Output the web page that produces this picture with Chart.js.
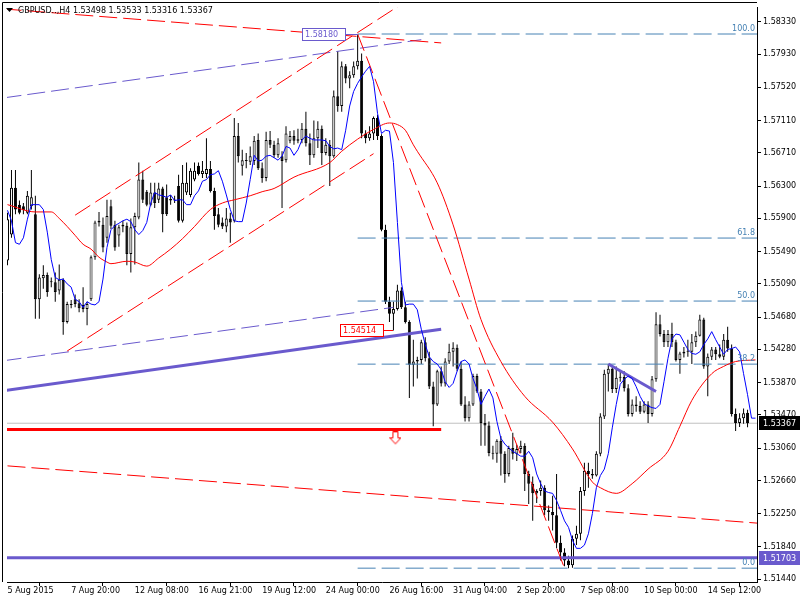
<!DOCTYPE html>
<html>
<head>
<meta charset="utf-8">
<script src="https://cdn.jsdelivr.net/npm/chart.js@4.4.1/dist/chart.umd.min.js"></script>
<style>
  html, body { margin: 0; padding: 0; background: #fff; }
  canvas { display: block; }
</style>
</head>
<body>
<canvas id="chart" width="800" height="600" style="width:800px;height:600px"></canvas>
<script>
/* GBPUSD H4 — candles, two moving averages, channels, fibo levels */

// ── Data ─────────────────────────────────────
const symbol = 'GBPUSD..,H4';

const xLabels = ['5 Aug 2015', '7 Aug 20:00', '12 Aug 08:00', '16 Aug 21:00', '19 Aug 12:00', '24 Aug 00:00',
                 '26 Aug 16:00', '31 Aug 04:00', '2 Sep 20:00', '7 Sep 08:00', '10 Sep 00:00', '14 Sep 12:00'];

const yTicks = [1.58330, 1.57930, 1.57520, 1.57110, 1.56710, 1.56300, 1.55900, 1.55490, 1.55090,
                1.54680, 1.54280, 1.53870, 1.53470, 1.53060, 1.52660, 1.52250, 1.51840, 1.51440];

const open = [
  1.5538, 1.5570, 1.5628, 1.5607, 1.5605, 1.5597, 1.5605, 1.5595, 1.5490, 1.5516,
  1.5520, 1.5512, 1.5511, 1.5501, 1.5514, 1.5462, 1.5483, 1.5490, 1.5485, 1.5483,
  1.5478, 1.5490, 1.5542, 1.5585, 1.5582, 1.5566, 1.5605, 1.5582, 1.5569, 1.5580,
  1.5581, 1.5546, 1.5579, 1.5591, 1.5638, 1.5623, 1.5607, 1.5622, 1.5613, 1.5627,
  1.5616, 1.5614, 1.5613, 1.5630, 1.5587, 1.5622, 1.5619, 1.5638, 1.5655, 1.5645,
  1.5645, 1.5651, 1.5624, 1.5595, 1.5585, 1.5580, 1.5590, 1.5587, 1.5692, 1.5655,
  1.5662, 1.5660, 1.5661, 1.5687, 1.5652, 1.5640, 1.5687, 1.5681, 1.5668, 1.5667,
  1.5662, 1.5686, 1.5692, 1.5686, 1.5687, 1.5701, 1.5683, 1.5668, 1.5689, 1.5701,
  1.5671, 1.5681, 1.5667, 1.5741, 1.5729, 1.5778, 1.5763, 1.5767, 1.5778, 1.5785,
  1.5695, 1.5689, 1.5695, 1.5714, 1.5692, 1.5576, 1.5487, 1.5472, 1.5478, 1.5501,
  1.5480, 1.5462, 1.5409, 1.5413, 1.5415, 1.5437, 1.5417, 1.5382, 1.5360, 1.5401,
  1.5386, 1.5413, 1.5425, 1.5430, 1.5404, 1.5360, 1.5343, 1.5360, 1.5395, 1.5376,
  1.5337, 1.5334, 1.5300, 1.5299, 1.5315, 1.5299, 1.5274, 1.5306, 1.5299, 1.5305,
  1.5309, 1.5274, 1.5262, 1.5250, 1.5253, 1.5257, 1.5229, 1.5227, 1.5223, 1.5189,
  1.5177, 1.5167, 1.5161, 1.5194, 1.5200, 1.5253, 1.5278, 1.5274, 1.5272, 1.5299,
  1.5345, 1.5398, 1.5404, 1.5379, 1.5393, 1.5394, 1.5380, 1.5348, 1.5360, 1.5358,
  1.5351, 1.5360, 1.5348, 1.5391, 1.5459, 1.5447, 1.5437, 1.5447, 1.5437, 1.5415,
  1.5423, 1.5425, 1.5425, 1.5437, 1.5445, 1.5465, 1.5407, 1.5419, 1.5428, 1.5422,
  1.5419, 1.5440, 1.5429, 1.5348, 1.5337, 1.5343, 1.53498
];
const high = [
  1.5597, 1.5650, 1.5650, 1.5612, 1.5609, 1.5624, 1.5650, 1.5618, 1.5521, 1.5532,
  1.5523, 1.5517, 1.5523, 1.5533, 1.5516, 1.5487, 1.5489, 1.5496, 1.5490, 1.5505,
  1.5487, 1.5544, 1.5587, 1.5598, 1.5591, 1.5613, 1.5613, 1.5587, 1.5582, 1.5587,
  1.5585, 1.5590, 1.5597, 1.5659, 1.5649, 1.5625, 1.5634, 1.5634, 1.5634, 1.5629,
  1.5632, 1.5619, 1.5618, 1.5644, 1.5656, 1.5659, 1.5652, 1.5659, 1.5659, 1.5661,
  1.5689, 1.5661, 1.5628, 1.5603, 1.5591, 1.5603, 1.5597, 1.5714, 1.5708, 1.5675,
  1.5671, 1.5679, 1.5692, 1.5695, 1.5659, 1.5697, 1.5698, 1.5686, 1.5689, 1.5673,
  1.5704, 1.5698, 1.5699, 1.5701, 1.5708, 1.5722, 1.5695, 1.5711, 1.5710, 1.5705,
  1.5689, 1.5687, 1.5748, 1.5797, 1.5784, 1.5781, 1.5772, 1.5784, 1.5818, 1.5794,
  1.5699, 1.5704, 1.5716, 1.5718, 1.5694, 1.5582, 1.5493, 1.5487, 1.5508, 1.5505,
  1.5487, 1.5464, 1.5440, 1.5419, 1.5440, 1.5443, 1.5425, 1.5388, 1.5403, 1.5407,
  1.5417, 1.5435, 1.5437, 1.5434, 1.5413, 1.5370, 1.5364, 1.5398, 1.5398, 1.5379,
  1.5348, 1.5339, 1.5309, 1.5317, 1.5321, 1.5302, 1.5309, 1.5325, 1.5310, 1.5315,
  1.5312, 1.5278, 1.5271, 1.5255, 1.5266, 1.5260, 1.5235, 1.5247, 1.5274, 1.5198,
  1.5182, 1.5173, 1.5198, 1.5210, 1.5258, 1.5288, 1.5288, 1.5280, 1.5302, 1.5349,
  1.5403, 1.5410, 1.5407, 1.5407, 1.5401, 1.5401, 1.5385, 1.5366, 1.5370, 1.5364,
  1.5364, 1.5364, 1.5395, 1.5474, 1.5471, 1.5452, 1.5452, 1.5461, 1.5440, 1.5425,
  1.5431, 1.5440, 1.5447, 1.5450, 1.5471, 1.5467, 1.5423, 1.5431, 1.5431, 1.5434,
  1.5447, 1.5456, 1.5434, 1.5355, 1.5349, 1.5355, 1.53533
];
const low = [
  1.5532, 1.5566, 1.5595, 1.5595, 1.5595, 1.5595, 1.5601, 1.5466, 1.5466, 1.5503,
  1.5493, 1.5505, 1.5487, 1.5496, 1.5446, 1.5460, 1.5479, 1.5480, 1.5474, 1.5474,
  1.5458, 1.5488, 1.5539, 1.5580, 1.5548, 1.5560, 1.5577, 1.5550, 1.5555, 1.5573,
  1.5532, 1.5523, 1.5533, 1.5589, 1.5609, 1.5605, 1.5605, 1.5603, 1.5609, 1.5573,
  1.5593, 1.5607, 1.5609, 1.5585, 1.5585, 1.5619, 1.5616, 1.5636, 1.5643, 1.5640,
  1.5640, 1.5622, 1.5576, 1.5579, 1.5577, 1.5573, 1.5560, 1.5585, 1.5659, 1.5643,
  1.5652, 1.5656, 1.5656, 1.5650, 1.5634, 1.5636, 1.5677, 1.5665, 1.5665, 1.5603,
  1.5659, 1.5683, 1.5681, 1.5683, 1.5683, 1.5679, 1.5656, 1.5665, 1.5677, 1.5656,
  1.5668, 1.5630, 1.5665, 1.5722, 1.5722, 1.5757, 1.5751, 1.5764, 1.5774, 1.5689,
  1.5683, 1.5686, 1.5687, 1.5687, 1.5574, 1.5484, 1.5462, 1.54514, 1.5476, 1.5478,
  1.5460, 1.5368, 1.5382, 1.5392, 1.5410, 1.5413, 1.5379, 1.5333, 1.5358, 1.5382,
  1.5382, 1.5410, 1.5407, 1.5401, 1.5358, 1.5339, 1.5339, 1.5358, 1.5374, 1.5309,
  1.5309, 1.5296, 1.5292, 1.5288, 1.5272, 1.5263, 1.5271, 1.5292, 1.5290, 1.5300,
  1.5253, 1.5237, 1.5216, 1.5238, 1.5247, 1.5223, 1.5216, 1.5204, 1.5182, 1.5167,
  1.5160, 1.51575, 1.5158, 1.5186, 1.5192, 1.5247, 1.5257, 1.5268, 1.5271, 1.5296,
  1.5342, 1.5376, 1.5374, 1.5374, 1.5388, 1.5376, 1.5345, 1.5345, 1.5351, 1.5348,
  1.5349, 1.5337, 1.5345, 1.5388, 1.5444, 1.5431, 1.5431, 1.5431, 1.5413, 1.5398,
  1.5418, 1.5419, 1.5410, 1.5431, 1.5444, 1.5404, 1.5370, 1.5415, 1.5415, 1.5417,
  1.5415, 1.5425, 1.5345, 1.5327, 1.5332, 1.5336, 1.53316
];
const close = [
  1.5589, 1.5628, 1.5601, 1.5597, 1.5600, 1.5618, 1.5616, 1.5490, 1.5517, 1.5520,
  1.5499, 1.5511, 1.5499, 1.5514, 1.5462, 1.5484, 1.5484, 1.5484, 1.5479, 1.5478,
  1.5484, 1.5542, 1.5585, 1.5587, 1.5554, 1.5593, 1.5581, 1.5554, 1.5579, 1.5582,
  1.5546, 1.5579, 1.5593, 1.5638, 1.5613, 1.5607, 1.5622, 1.5609, 1.5627, 1.5595,
  1.5595, 1.5612, 1.5612, 1.5587, 1.5634, 1.5634, 1.5649, 1.5649, 1.5645, 1.5649,
  1.5651, 1.5624, 1.5593, 1.5582, 1.5580, 1.5590, 1.5585, 1.5692, 1.5667, 1.5662,
  1.5661, 1.5667, 1.5686, 1.5652, 1.5640, 1.5687, 1.5681, 1.5668, 1.5683, 1.5661,
  1.5695, 1.5692, 1.5686, 1.5688, 1.5701, 1.5683, 1.5668, 1.5689, 1.5701, 1.5671,
  1.5681, 1.5667, 1.5741, 1.5729, 1.5778, 1.5763, 1.5767, 1.5778, 1.5785, 1.5695,
  1.5689, 1.5695, 1.5714, 1.5692, 1.5576, 1.5487, 1.5472, 1.5478, 1.5501, 1.5480,
  1.5462, 1.5409, 1.5413, 1.5415, 1.5437, 1.5417, 1.5382, 1.5360, 1.5401, 1.5386,
  1.5413, 1.5425, 1.5430, 1.5404, 1.5360, 1.5343, 1.5360, 1.5395, 1.5376, 1.5337,
  1.5334, 1.5300, 1.5299, 1.5315, 1.5299, 1.5274, 1.5306, 1.5299, 1.5305, 1.5309,
  1.5274, 1.5262, 1.5250, 1.5253, 1.5257, 1.5229, 1.5227, 1.5223, 1.5189, 1.5177,
  1.5167, 1.5161, 1.5194, 1.5200, 1.5253, 1.5278, 1.5274, 1.5272, 1.5299, 1.5345,
  1.5398, 1.5404, 1.5379, 1.5393, 1.5394, 1.5380, 1.5348, 1.5360, 1.5358, 1.5351,
  1.5360, 1.5348, 1.5391, 1.5459, 1.5447, 1.5437, 1.5447, 1.5437, 1.5415, 1.5423,
  1.5425, 1.5425, 1.5437, 1.5445, 1.5465, 1.5407, 1.5419, 1.5428, 1.5422, 1.5419,
  1.5440, 1.5429, 1.5348, 1.5337, 1.5343, 1.5349, 1.53367
];

// fast MA (blue), one value per bar, shifted two bars forward
const blueMA = [
  1.5600, 1.5587, 1.5560, 1.5558, 1.5566, 1.5589, 1.5607, 1.5607, 1.5607, 1.5601,
  1.5573, 1.5539, 1.5517, 1.5514, 1.5515, 1.5509, 1.5505, 1.5490, 1.5487, 1.5480,
  1.5487, 1.5484, 1.5483, 1.5487, 1.5515, 1.5554, 1.5576, 1.5581, 1.5584, 1.5587,
  1.5589, 1.5586, 1.5576, 1.5570, 1.5575, 1.5585, 1.5609, 1.5622, 1.5619, 1.5618,
  1.5616, 1.5619, 1.5612, 1.5613, 1.5613, 1.5607, 1.5607, 1.5618, 1.5624, 1.5636,
  1.5638, 1.5644, 1.5645, 1.5649, 1.5636, 1.5619, 1.5601, 1.5587, 1.5586, 1.5586,
  1.5609, 1.5638, 1.5668, 1.5661, 1.5662, 1.5667, 1.5668, 1.5665, 1.5662, 1.5667,
  1.5679, 1.5677, 1.5668, 1.5675, 1.5687, 1.5692, 1.5689, 1.5687, 1.5687, 1.5687,
  1.5686, 1.5679, 1.5676, 1.5677, 1.5675, 1.5699, 1.5729, 1.5747, 1.5757, 1.5765,
  1.5772, 1.5778, 1.5759, 1.5720, 1.5695, 1.5699, 1.5698, 1.5659, 1.5585, 1.5511,
  1.5483, 1.5484, 1.5484, 1.5477, 1.5453, 1.5434, 1.5419, 1.5413, 1.5410, 1.5403,
  1.5388, 1.5381, 1.5386, 1.5401, 1.5413, 1.5415, 1.5410, 1.5392, 1.5379, 1.5360,
  1.5370, 1.5379, 1.5368, 1.5339, 1.5318, 1.5311, 1.5306, 1.5302, 1.5299, 1.5296,
  1.5296, 1.5302, 1.5294, 1.5274, 1.5262, 1.5253, 1.5251, 1.5250, 1.5241, 1.5229,
  1.5216, 1.5208, 1.5192, 1.5182, 1.5182, 1.5186, 1.5200, 1.5225, 1.5257, 1.5272,
  1.5280, 1.5299, 1.5331, 1.5360, 1.5385, 1.5391, 1.5395, 1.5392, 1.5382, 1.5370,
  1.5361, 1.5358, 1.5356, 1.5355, 1.5360, 1.5388, 1.5417, 1.5441, 1.5447, 1.5446,
  1.5437, 1.5428, 1.5423, 1.5422, 1.5425, 1.5434, 1.5441, 1.5450, 1.5440, 1.5431,
  1.5422, 1.5428, 1.5429, 1.5431, 1.5425, 1.5398, 1.5372, 1.5343, 1.5343
];

// slow MA (red), read at selected bars
const redBars = [0, 7, 11, 13, 15, 17, 19, 21, 23, 25, 26, 30, 32, 35, 38, 41, 44, 47, 51, 54,
                 57, 61, 64, 67, 72, 81, 84, 88, 92, 96, 98, 100, 102, 103, 108, 112, 116, 119, 124, 130,
                 137, 142, 147, 149, 153, 157, 161, 166, 169, 172, 177, 180, 183, 188];
const redMA = [1.5607, 1.5598, 1.5598, 1.5590, 1.5580, 1.5569, 1.5558, 1.5552, 1.5542, 1.5536,
               1.5534, 1.5537, 1.5536, 1.5531, 1.5541, 1.5552, 1.5565, 1.5580, 1.5601, 1.5609,
               1.5613, 1.5618, 1.5623, 1.5627, 1.5641, 1.5659, 1.5673, 1.5688, 1.5700, 1.5708,
               1.5706, 1.5699, 1.5681, 1.5673, 1.5634, 1.5582, 1.5515, 1.5465, 1.5413, 1.5370,
               1.5338, 1.5305, 1.5264, 1.5257, 1.5250, 1.5262, 1.5280, 1.5302, 1.5333, 1.5365,
               1.5398, 1.5407, 1.5413, 1.5415];

// fibo retracement from the high (bar 88) to the low (bar 141)
const fibNames  = ['100.0', '61.8', '50.0', '38.2', '0.0'];
const fibPrices = [1.58180, 1.55657, 1.54878, 1.54098, 1.51575];
const fibStart  = 88;

// drawn objects: [bar, price] end points
const redChanUp   = [[17, 1.5594], [100, 1.5858]];
const redChanLow  = [[15, 1.5426], [92, 1.5670]];
const redDrop     = [[88, 1.5818], [140, 1.51575]];
const redDownTop  = [[-1, 1.5849], [109, 1.5807]];
const redDownLow  = [[0, 1.5284], [189, 1.5213]];
const purpUp      = [[-1, 1.5739], [104, 1.5811]];
const purpLow     = [[-1, 1.5414], [97, 1.5480]];
const purpThick   = [[-1, 1.5377], [109, 1.5453]];
const purpShort   = [[151, 1.5410], [163, 1.5376]];
const redLevel    = [[-1, 1.5329], [109, 1.5329]];
const supportPrice = 1.51703;

const tagBars   = [88, 97];
const tagPrices = [1.58180, 1.54514];
const arrowPoint = [97.5, 1.5318];

// ── Helpers ──────────────────────────────────
const FONT = '8px "DejaVu Sans", sans-serif';
const N = close.length;
const RED = '#ff0000', PURPLE = '#6a5acd', STEEL = '#4682b4';

function seg(pts, color, width, dash, order) {
  return {
    type: 'line', data: pts.map(([x, y]) => ({ x, y })),
    borderColor: color, borderWidth: width, borderDash: dash || [],
    pointRadius: 0, fill: false, tension: 0, clip: 0, order,
  };
}

function arrowImage() {
  const c = document.createElement('canvas');
  c.width = 12; c.height = 14;
  const g = c.getContext('2d');
  g.beginPath();
  g.moveTo(3.5, 0.5); g.lineTo(8.5, 0.5); g.lineTo(8.5, 6.5); g.lineTo(11.5, 6.5);
  g.lineTo(6, 12.5); g.lineTo(0.5, 6.5); g.lineTo(3.5, 6.5); g.closePath();
  g.fillStyle = '#fff'; g.fill();
  g.strokeStyle = RED; g.lineWidth = 1; g.stroke();
  return c;
}

// ── Datasets ─────────────────────────────────
const datasets = [
  // bid line under the candles
  seg([[-1, close[N - 1]], [190, close[N - 1]]], '#c0c0c0', 1, [], 9),
  {
    type: 'bar', data: close.map((c, i) => ({ x: i, y: [low[i], high[i]] })),
    backgroundColor: '#000', borderWidth: 0, barThickness: 1, grouped: false,
    inflateAmount: 0, clip: 0, order: 8,
  },
  {
    type: 'bar', data: close.map((c, i) => ({ x: i, y: [open[i], c] })),
    backgroundColor: close.map((c, i) => (c > open[i] ? '#ffffff' : '#000000')),
    borderColor: '#000', borderWidth: 1, borderSkipped: false, barThickness: 3,
    grouped: false, minBarLength: 1, inflateAmount: 0, clip: 0, order: 7,
  },
  ...fibPrices.map((p) => seg([[fibStart, p], [190, p]], STEEL, 1, [18, 6], 6)),
  seg(redChanUp, RED, 1, [18, 6], 5),
  seg(redChanLow, RED, 1, [18, 6], 5),
  seg(redDrop, RED, 1, [18, 6], 5),
  seg(redDownTop, RED, 1, [18, 6], 5),
  seg(redDownLow, RED, 1, [18, 6], 5),
  seg(purpUp, PURPLE, 1, [18, 6], 5),
  seg(purpLow, PURPLE, 1, [18, 6], 5),
  seg(purpThick, PURPLE, 3, [], 5),
  seg(purpShort, PURPLE, 3, [], 5),
  seg(redLevel, RED, 3, [], 5),
  seg([[-1, supportPrice], [190, supportPrice]], PURPLE, 3, [], 5),
  {
    type: 'line', data: redBars.map((b, i) => ({ x: b, y: redMA[i] })),
    borderColor: RED, borderWidth: 1, pointRadius: 0, fill: false,
    cubicInterpolationMode: 'monotone', clip: 0, order: 3,
  },
  {
    type: 'line', data: blueMA.map((v, i) => ({ x: i, y: v })),
    borderColor: '#0000ff', borderWidth: 1, pointRadius: 0, fill: false,
    tension: 0, clip: 0, order: 2,
  },
  {
    type: 'line', data: [{ x: arrowPoint[0], y: arrowPoint[1] }], showLine: false,
    pointStyle: arrowImage(), pointRadius: 6, clip: 0, order: 1,
  },
];

// ── Overlay: header, tags, fibo names, axis boxes, frame ──
const overlay = {
  id: 'overlay',
  afterDatasetsDraw(chart) {
    const { ctx, chartArea: a, scales: { x, y } } = chart;
    ctx.save();
    ctx.font = FONT;

    ctx.fillStyle = STEEL;
    ctx.textAlign = 'right';
    ctx.textBaseline = 'bottom';
    fibPrices.forEach((p, i) => ctx.fillText(fibNames[i], a.right - 2, y.getPixelForValue(p) - 1));

    const tagColors = [PURPLE, RED];
    const tagGaps = [13, 10];
    tagBars.forEach((b, i) => {
      const px = Math.round(x.getPixelForValue(b));
      const py = Math.round(y.getPixelForValue(tagPrices[i])) + 0.5;
      const right = px - tagGaps[i];
      ctx.strokeStyle = tagColors[i];
      ctx.lineWidth = 1;
      ctx.beginPath(); ctx.moveTo(right, py); ctx.lineTo(px, py); ctx.stroke();
      ctx.fillStyle = '#fff';
      ctx.fillRect(right - 43, py - 6.5, 43, 13);
      ctx.strokeRect(right - 43 + 0.5, py - 6, 43, 12);
      ctx.fillStyle = tagColors[i];
      ctx.textAlign = 'left';
      ctx.textBaseline = 'middle';
      ctx.fillText(tagPrices[i].toFixed(5), right - 40, py + 0.5);
    });
    ctx.restore();
  },
  afterDraw(chart) {
    const { ctx, chartArea: a, scales: { y } } = chart;
    ctx.save();
    ctx.font = FONT;

    // frame
    ctx.strokeStyle = '#000';
    ctx.lineWidth = 1;
    ctx.beginPath();
    ctx.moveTo(2.5, a.bottom); ctx.lineTo(2.5, 2.5); ctx.lineTo(a.right, 2.5);
    ctx.stroke();

    // header
    ctx.fillStyle = '#000';
    ctx.beginPath(); ctx.moveTo(6, 8); ctx.lineTo(13, 8); ctx.lineTo(9.5, 12); ctx.closePath(); ctx.fill();
    ctx.textAlign = 'left';
    ctx.textBaseline = 'middle';
    const ohlc = [open[N - 1], high[N - 1], low[N - 1], close[N - 1]].map((v) => v.toFixed(5)).join(' ');
    ctx.fillText(`${symbol} ${ohlc}`, 18, 11);

    // price boxes on the axis
    [[close[N - 1], '#000'], [supportPrice, PURPLE]].forEach(([p, c]) => {
      const py = Math.round(y.getPixelForValue(p));
      ctx.fillStyle = c;
      ctx.fillRect(a.right + 2, py - 7, 800 - a.right - 2, 14);
      ctx.fillStyle = '#fff';
      ctx.fillText(p.toFixed(5), a.right + 6, py + 0.5);
    });
    ctx.restore();
  },
};

// ── Chart ────────────────────────────────────
new Chart(document.getElementById('chart'), {
  type: 'bar',
  data: { datasets },
  options: {
    responsive: false,
    animation: false,
    devicePixelRatio: 1,
    layout: { padding: { left: 3, top: 3, right: 0, bottom: 0 } },
    plugins: { legend: { display: false }, tooltip: { enabled: false } },
    scales: {
      x: {
        type: 'linear', offset: false, min: -0.125, max: 188.375,
        afterBuildTicks: (s) => { s.ticks = xLabels.map((_, k) => ({ value: k * 16 })); },
        afterFit: (s) => { s.height = 18; s.paddingLeft = 0; s.paddingRight = 0; },
        grid: { drawOnChartArea: false, drawTicks: true, tickLength: 4, color: '#000' },
        border: { display: true, color: '#000' },
        ticks: {
          align: 'start', padding: 0, color: '#000', font: { family: 'DejaVu Sans', size: 8 },
          maxRotation: 0, autoSkip: false, callback: (v) => xLabels[Math.round(v / 16)],
        },
      },
      y: {
        position: 'right', min: 1.51404, max: 1.58514,
        afterBuildTicks: (s) => { s.ticks = yTicks.map((v) => ({ value: v })); },
        afterFit: (s) => { s.width = 43; s.paddingTop = 0; s.paddingBottom = 0; },
        grid: { drawOnChartArea: false, drawTicks: true, tickLength: 4, color: '#000' },
        border: { display: true, color: '#000' },
        ticks: {
          padding: 2, color: '#000', font: { family: 'DejaVu Sans', size: 8 },
          autoSkip: false, callback: (v) => Number(v).toFixed(5),
        },
      },
    },
  },
  plugins: [overlay],
});
</script>
</body>
</html>
